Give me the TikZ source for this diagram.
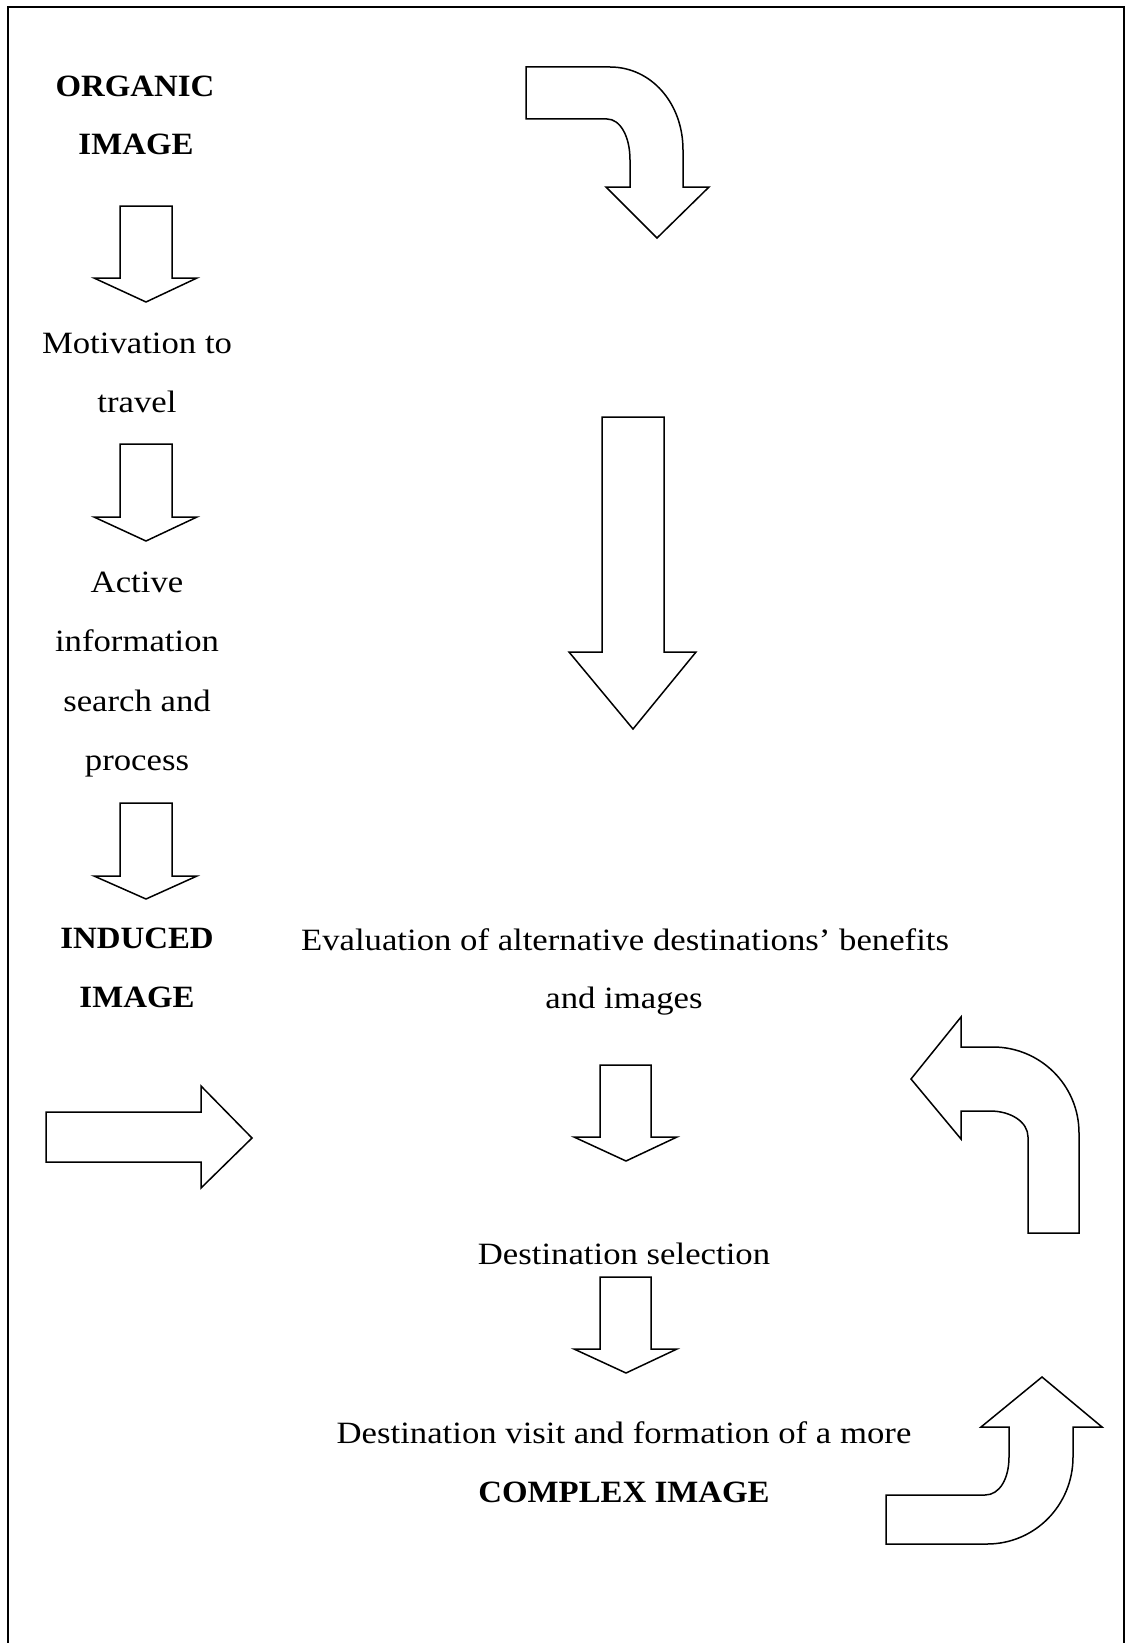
\documentclass[tikz,border=0pt]{standalone}
\usepackage{fontspec}
\setmainfont[FakeStretch=1.12,BoldFeatures={FakeStretch=1.06}]{Liberation Serif}
\tikzset{
  blockarrow/.style={draw, line width=0.75pt, line join=miter, fill=white},
  lbl/.style={anchor=base, inner sep=0pt, font=\fontsize{15.5}{18}\selectfont},
  lblb/.style={anchor=base, inner sep=0pt, font=\fontsize{15.5}{18}\selectfont\bfseries},
  frameline/.style={line width=1.2pt}
}
\begin{document}
\begin{tikzpicture}[x=0.5pt,y=-0.5pt]
\useasboundingbox (0,0) rectangle (1126,1643);
% frame
\draw[frameline] (8,1650) -- (8,7) -- (1124,7) -- (1124,1650);

% left column texts
\node[lblb] (org1) at (135,97) {ORGANIC};
\node[lblb] (org2) at (136,155) {IMAGE};
\node[lbl] (mot1) at (137,353) {Motivation to};
\node[lbl] (mot2) at (137,412) {travel};
\node[lbl] (act1) at (137,592) {Active};
\node[lbl] (act2) at (137,651) {information};
\node[lbl] (act3) at (137,711) {search and};
\node[lbl] (act4) at (137,770) {process};
\node[lblb] (ind1) at (137,948) {INDUCED};
\node[lblb] (ind2) at (137,1007) {IMAGE};

% centre texts
\node[lbl] (eva1) at (625,950) {Evaluation of alternative destinations’ benefits};
\node[lbl] (eva2) at (624,1008) {and images};
\node[lbl] (sel) at (624,1264) {Destination selection};
\node[lbl] (vis1) at (624,1443) {Destination visit and formation of a more};
\node[lblb] (vis2) at (624,1502) {COMPLEX IMAGE};

% small left arrows
\draw[blockarrow] (120,206) -- (172,206) -- (172,278) -- (197,278) -- (146,302) -- (94,278) -- (120,278) -- cycle;
\draw[blockarrow] (120,444) -- (172,444) -- (172,517) -- (197,517) -- (146,541) -- (94,517) -- (120,517) -- cycle;
\draw[blockarrow] (120,803) -- (172,803) -- (172,876) -- (197,876) -- (146,899) -- (94,876) -- (120,876) -- cycle;

% small centre arrows
\draw[blockarrow] (600,1065) -- (651,1065) -- (651,1137) -- (677,1137) -- (626,1161) -- (574,1137) -- (600,1137) -- cycle;
\draw[blockarrow] (600,1277) -- (651,1277) -- (651,1349) -- (677,1349) -- (626,1373) -- (574,1349) -- (600,1349) -- cycle;

% big down arrow
\draw[blockarrow] (602,417) -- (664,417) -- (664,652) -- (696,652) -- (633,729) -- (569,652) -- (602,652) -- cycle;

% right arrow
\draw[blockarrow] (46,1112) -- (201,1112) -- (201,1086) -- (252,1138) -- (201,1188) -- (201,1162) -- (46,1162) -- cycle;

% top curved arrow (right then down)
\draw[blockarrow] (526,67) -- (610,67)
  .. controls (651,67) and (683,103) .. (683,150)
  -- (683,187) -- (709,187) -- (657,238) -- (606,187) -- (630,187) -- (630,160)
  .. controls (630,136) and (620,119) .. (607,119)
  -- (526,119) -- cycle;

% curved arrow (up then left)
\draw[blockarrow] (1079,1233) -- (1079,1133)
  .. controls (1079,1085) and (1040,1047) .. (993,1047)
  -- (961,1047) -- (961,1017) -- (911,1079) -- (961,1139) -- (961,1111) -- (990,1111)
  .. controls (1011,1111) and (1028,1122) .. (1028,1137)
  -- (1028,1233) -- cycle;

% curved arrow (right then up)
\draw[blockarrow] (886,1495) -- (985,1495)
  .. controls (1000,1495) and (1009,1478) .. (1009,1457)
  -- (1009,1427) -- (981,1427) -- (1042,1377) -- (1102,1427) -- (1073,1427) -- (1073,1457)
  .. controls (1073,1505) and (1035,1544) .. (987,1544)
  -- (886,1544) -- cycle;
\end{tikzpicture}
\end{document}
